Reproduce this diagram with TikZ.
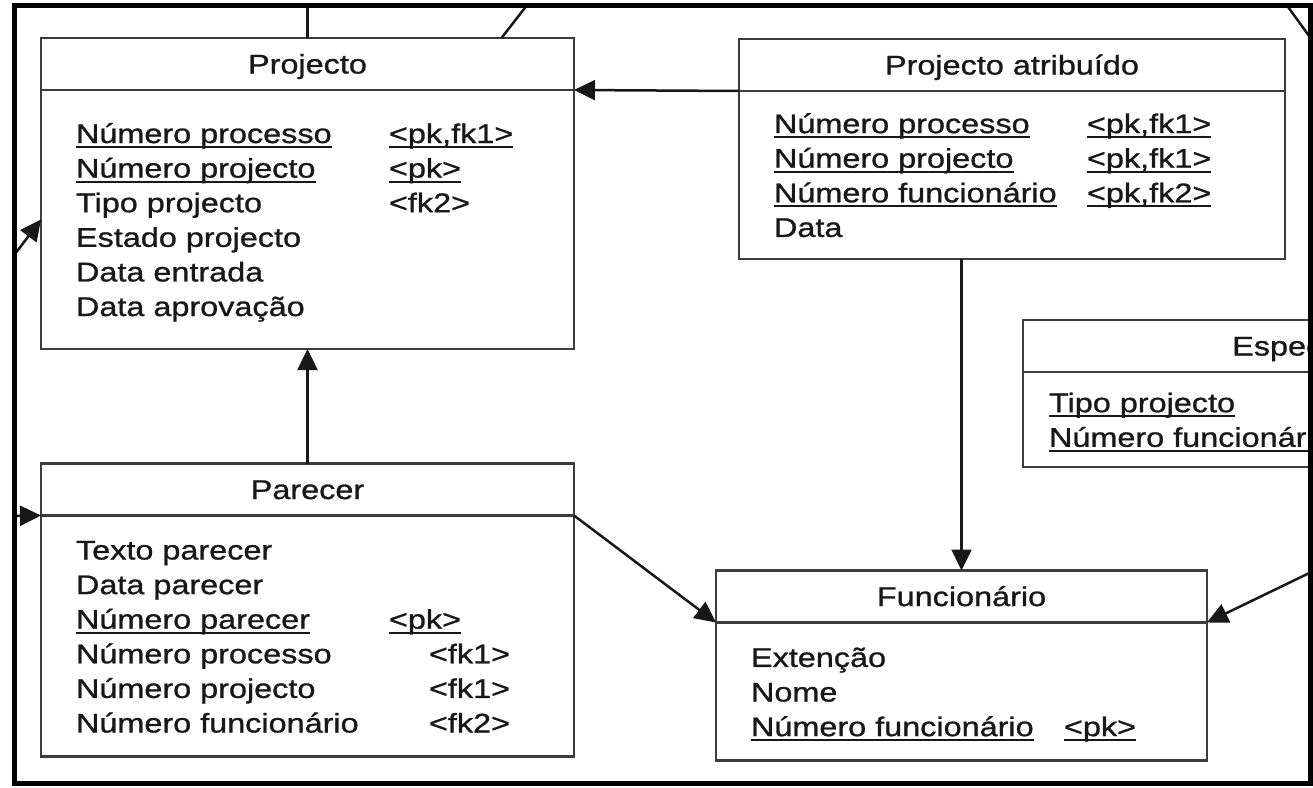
\documentclass[tikz,border=0pt]{standalone}
\usepackage{fontspec}
\setmainfont{Liberation Sans}[FakeStretch=1.2,FakeBold=1]
\usetikzlibrary{arrows.meta,positioning}
\definecolor{ink}{RGB}{24,24,24}
\definecolor{edge}{RGB}{60,60,60}
\newcommand{\ulk}[1]{\leavevmode\setbox0\hbox{#1}\rlap{\rule[-5pt]{\wd0}{2pt}}\box0}
\newcommand{\attr}[2]{\makebox[313pt][l]{#1}#2}
\newcommand{\rowstrut}{\rule[-7pt]{0pt}{34pt}}

\begin{document}
\begin{tikzpicture}[x=1pt, y=-1pt, font={\fontsize{27}{34.6}\selectfont}, text=ink, node distance=0pt,
      tablehead/.style={rectangle, draw=edge, line width=2.5pt, outer sep=0pt, fill=white,
                        minimum height=52pt, inner sep=0pt, text height=19pt, text depth=0pt},
      tablebody/.style={rectangle, draw=edge, line width=2.5pt, outer sep=0pt, align=left,
                        inner xsep=35pt, inner ysep=0pt,
                        execute at begin node=\rowstrut, execute at end node=\rowstrut},
      conn/.style={draw=ink, line width=2.5pt, -{Triangle[length=21pt,width=20pt]}},
      link/.style={draw=ink, line width=2.5pt}]
    \useasboundingbox (0,0) rectangle (1313,787);
    \begin{scope}
    \clip (14.5,5.5) rectangle (1310.5,783.5);
    \node[tablehead, minimum width=533pt] (projecto) at (307.5,64) {Projecto};
    \node[tablebody, below=of projecto, text width=463pt, minimum height=259pt] (projecto-b) {%
      \attr{\ulk{Número processo}}{\ulk{<pk,fk1>}}\\
      \attr{\ulk{Número projecto}}{\ulk{<pk>}}\\
      \attr{Tipo projecto}{<fk2>}\\
      Estado projecto\\
      Data entrada\\
      Data aprovação};
    \node[tablehead, minimum width=546pt] (patrib) at (1012,65) {Projecto atribuído};
    \node[tablebody, below=of patrib, text width=476pt, minimum height=168pt] (patrib-b) {%
      \attr{\ulk{Número processo}}{\ulk{<pk,fk1>}}\\
      \attr{\ulk{Número projecto}}{\ulk{<pk,fk1>}}\\
      \attr{\ulk{Número funcionário}}{\ulk{<pk,fk2>}}\\
      Data};
    \node[tablehead, minimum width=640pt] (espec) at (1343,346) {};
    \node[anchor=west, inner sep=0pt, text height=19pt, text depth=0pt] (espec-t) at ([xshift=209pt]espec.west) {Espec};
    \node[tablebody, below=of espec, inner xsep=26pt, text width=588pt, minimum height=95pt] (espec-b) {%
      \ulk{Tipo projecto}\\
      \ulk{Número funcionári}};
    \node[tablehead, minimum width=533pt] (parecer) at (307.5,489.5) {Parecer};
    \node[tablebody, below=of parecer, text width=463pt, minimum height=241pt] (parecer-b) {%
      Texto parecer\\
      Data parecer\\
      \attr{\ulk{Número parecer}}{\ulk{<pk>}}\\
      \attr{Número processo}{\hspace*{40pt}<fk1>}\\
      \attr{Número projecto}{\hspace*{40pt}<fk1>}\\
      \attr{Número funcionário}{\hspace*{40pt}<fk2>}};
    \node[tablehead, minimum width=491pt] (func) at (961.5,596.5) {Funcionário};
    \node[tablebody, below=of func, text width=421pt, minimum height=138pt] (func-b) {%
      Extenção\\
      Nome\\
      \attr{\ulk{Número funcionário}}{\ulk{<pk>}}};
    \coordinate (up1) at (307.5,0);
    \coordinate (up2) at (531,0);
    \coordinate (up3) at (1283,0);
    \coordinate (rt) at (1320,51);
    \coordinate (fromright) at (1330,563);
    \coordinate (fromleft1) at (0,516);
    \coordinate (fromleft2) at (0,274);
    \draw[link] (projecto.north) -- (up1);
    \draw[link] ([xshift=194pt]projecto.north) -- (up2);
    \draw[link] (up3) -- (rt);
    \draw[conn] (patrib.south west) -- (projecto.south east);
    \draw[conn] (parecer.north) -- (projecto-b.south);
    \draw[conn] (patrib-b.south -| func.north) -- (func.north);
    \draw[conn] (parecer.south east) -- (func.south west);
    \draw[conn] (fromright) -- (func.south east);
    \draw[conn] (fromleft1) -- (parecer.south west);
    \draw[conn] (fromleft2) -- (projecto-b.west);
    \end{scope}
    \draw[line width=5.5pt] (14.5,5.5) rectangle (1310.5,783.5);
  \end{tikzpicture}
\end{document}
